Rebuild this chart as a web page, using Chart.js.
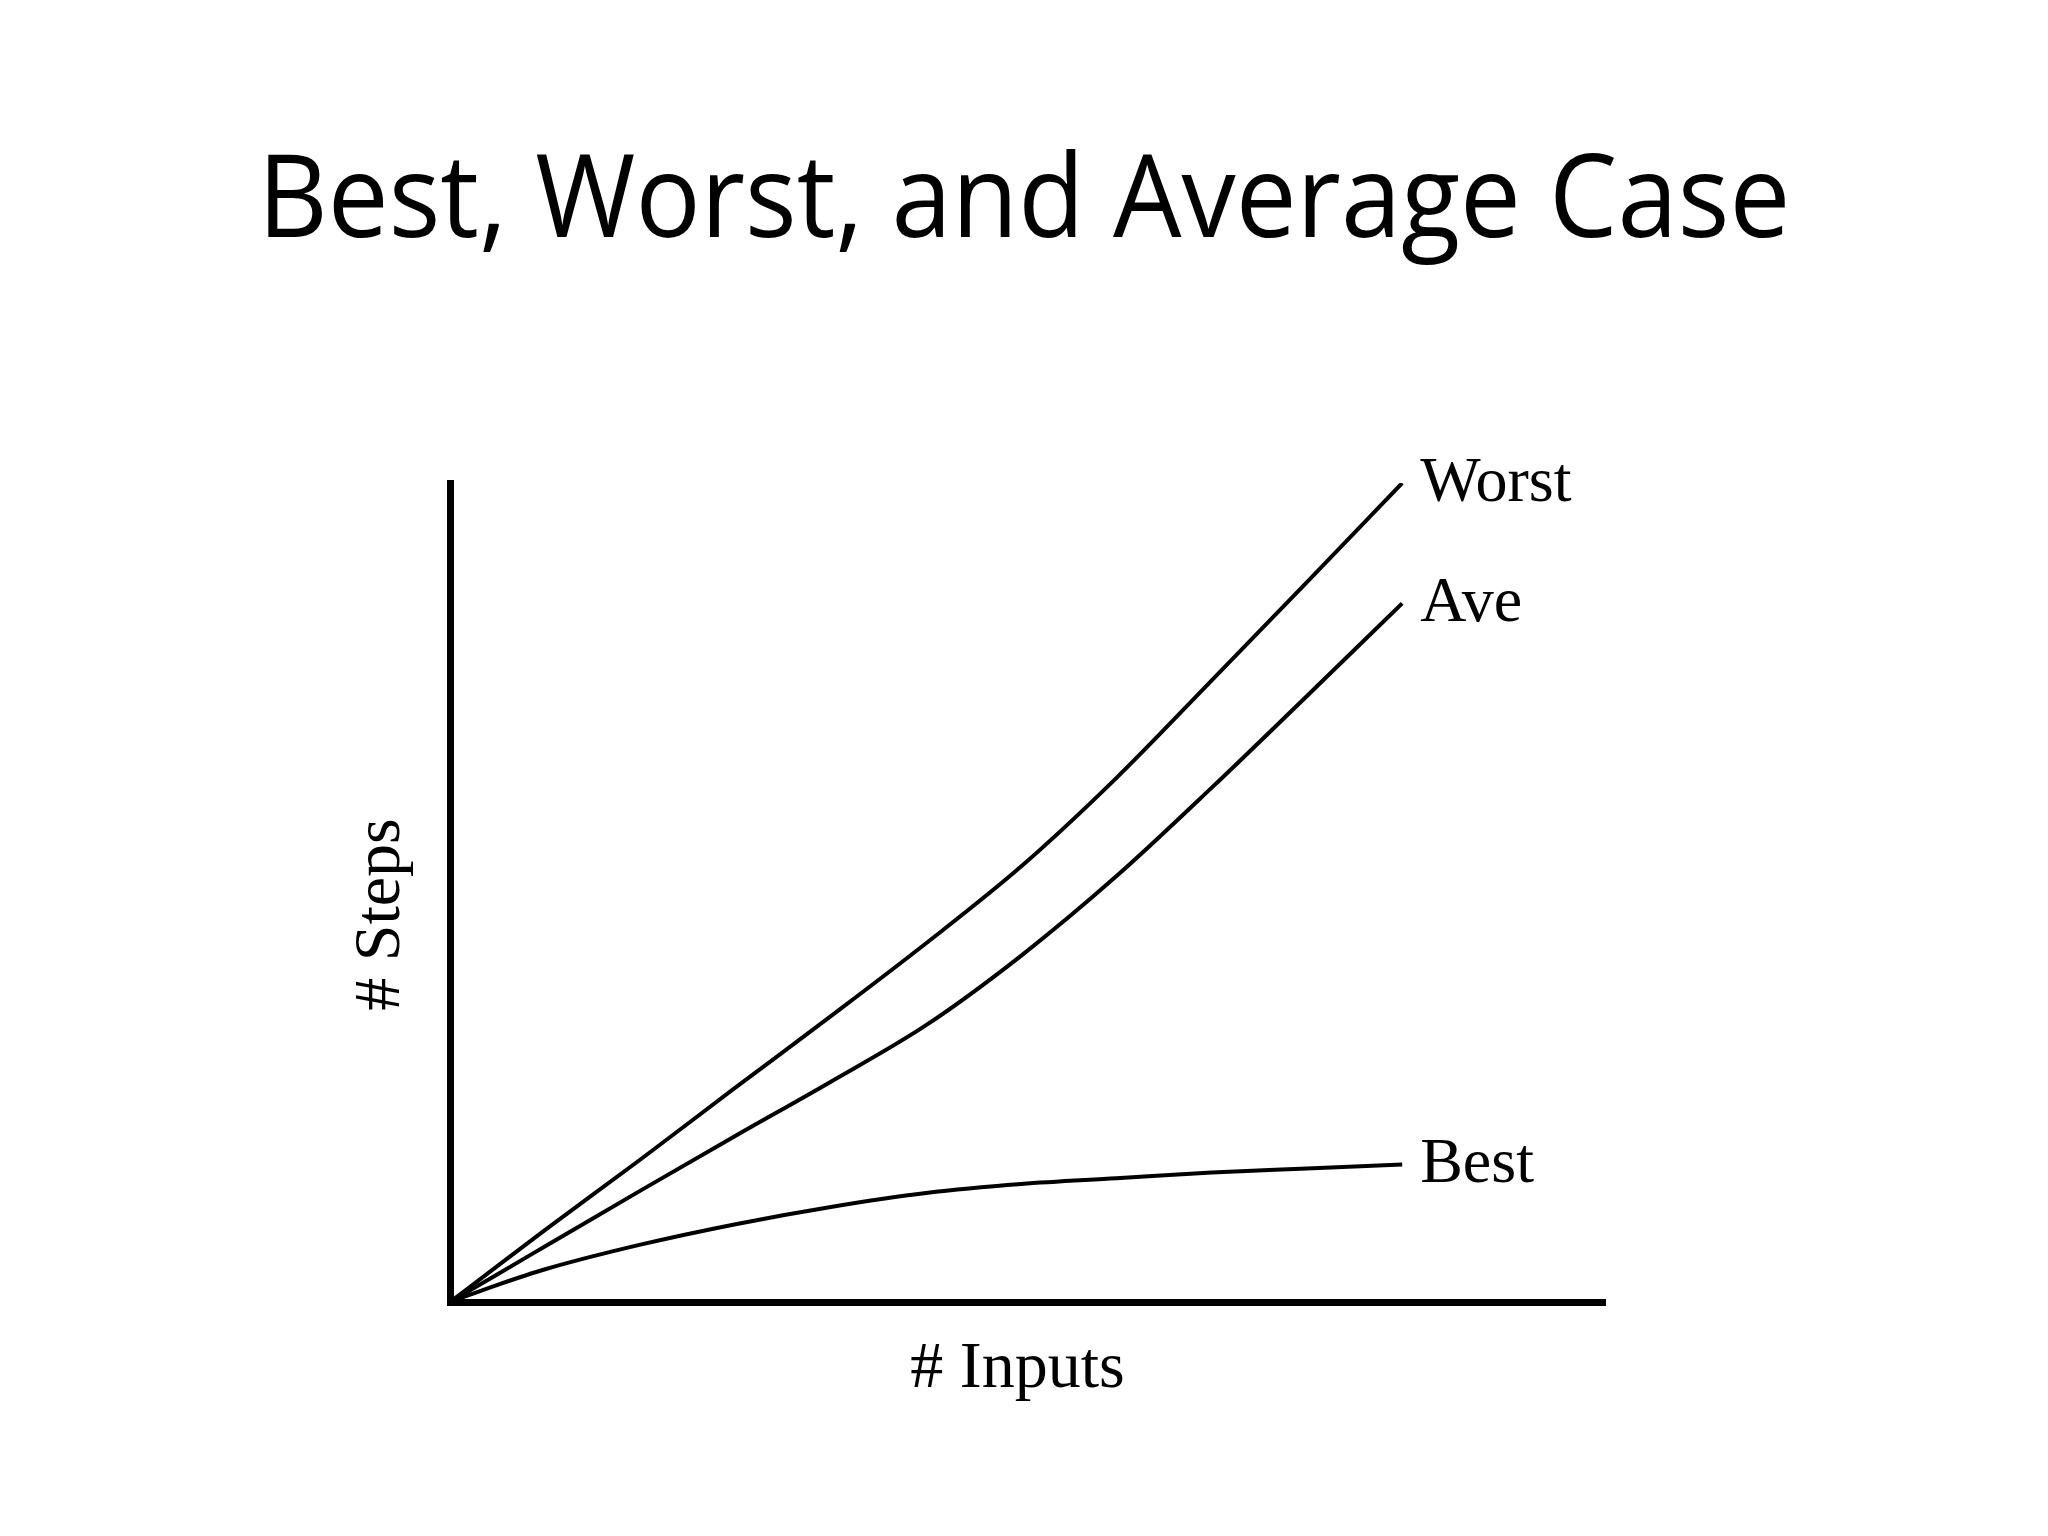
<!DOCTYPE html>
<html>
<head>
<meta charset="utf-8">
<title>Best, Worst, and Average Case</title>
<script src="https://cdn.jsdelivr.net/npm/chart.js@4.4.1/dist/chart.umd.min.js"></script>
<style>
  html, body { margin: 0; padding: 0; background: #fff; }
  #page { position: relative; width: 2048px; height: 1536px; overflow: hidden; }
  #slideTitle {
    position: absolute; left: 0; top: 134px; width: 2048px;
    text-align: center; line-height: 1;
    font-family: "Open Sans", sans-serif; font-size: 116px; color: #000;
    transform: scaleX(0.935);
  }
  #chart { position: absolute; left: 0; top: 0; }
</style>
</head>
<body>
<div id="page">
  <canvas id="chart" width="2048" height="1536"></canvas>
  <div id="slideTitle">Best, Worst, and Average Case</div>
</div>
<script>
// values (# inputs vs # steps)
const inputs = [0, 5, 10, 20, 30, 40, 50, 60, 70, 80, 90, 100];
const worst  = [0, 4.4, 8.8, 17.4, 26.2, 34.9, 43.8, 53.2, 64.0, 75.9, 87.9, 100];
const ave    = [0, 3.4, 6.8, 13.6, 20.3, 26.9, 33.8, 42.3, 52.0, 62.8, 74.0, 85.3];
const best   = [0, 2.1, 4.0, 7.0, 9.5, 11.6, 13.3, 14.4, 15.1, 15.8, 16.3, 16.8];
const seriesNames = ['Worst', 'Ave', 'Best'];
const xTitle = '# Inputs';
const yTitle = '# Steps';

const toPoints = vals => vals.map((v, i) => ({ x: inputs[i], y: v }));

// end labels + axis captions, placed from the scales
const captions = {
  id: 'captions',
  afterDatasetsDraw(chart) {
    const { ctx, chartArea, scales: { x, y } } = chart;
    ctx.save();
    ctx.fillStyle = '#000';
    ctx.textBaseline = 'alphabetic';
    ctx.font = '64px "Liberation Serif", "Times New Roman", serif';
    ctx.textAlign = 'left';
    chart.data.datasets.forEach(ds => {
      const last = ds.data[ds.data.length - 1];
      ctx.fillText(ds.label, x.getPixelForValue(last.x) + 18, y.getPixelForValue(last.y) + 18);
    });

    ctx.font = '66px "Liberation Serif", "Times New Roman", serif';
    ctx.textAlign = 'center';
    ctx.fillText(xTitle, (chartArea.left + chartArea.right) / 2 - 10, chartArea.bottom + 85);

    ctx.translate(chartArea.left - 51, (chartArea.top + chartArea.bottom) / 2 + 22);
    ctx.rotate(-Math.PI / 2);
    ctx.fillText(yTitle, 0, 0);
    ctx.restore();
  }
};

const lineStyle = {
  borderColor: '#000',
  borderWidth: 4,
  pointRadius: 0,
  fill: false,
  tension: 0.4,
  cubicInterpolationMode: 'monotone'
};

new Chart(document.getElementById('chart'), {
  type: 'line',
  data: {
    datasets: [
      { label: seriesNames[0], data: toPoints(worst), ...lineStyle },
      { label: seriesNames[1], data: toPoints(ave), ...lineStyle },
      { label: seriesNames[2], data: toPoints(best), ...lineStyle }
    ]
  },
  options: {
    responsive: false,
    animation: false,
    layout: { padding: { left: 450, right: 443, top: 483, bottom: 234 } },
    plugins: { legend: { display: false }, tooltip: { enabled: false } },
    scales: {
      x: {
        type: 'linear', min: 0, max: 121.3,
        grid: { display: false, drawTicks: false },
        border: { display: true, color: '#000', width: 7 },
        ticks: { display: false }
      },
      y: {
        min: 0, max: 100,
        grid: { display: false, drawTicks: false },
        border: { display: true, color: '#000', width: 7 },
        ticks: { display: false }
      }
    }
  },
  plugins: [captions]
});
</script>
</body>
</html>
